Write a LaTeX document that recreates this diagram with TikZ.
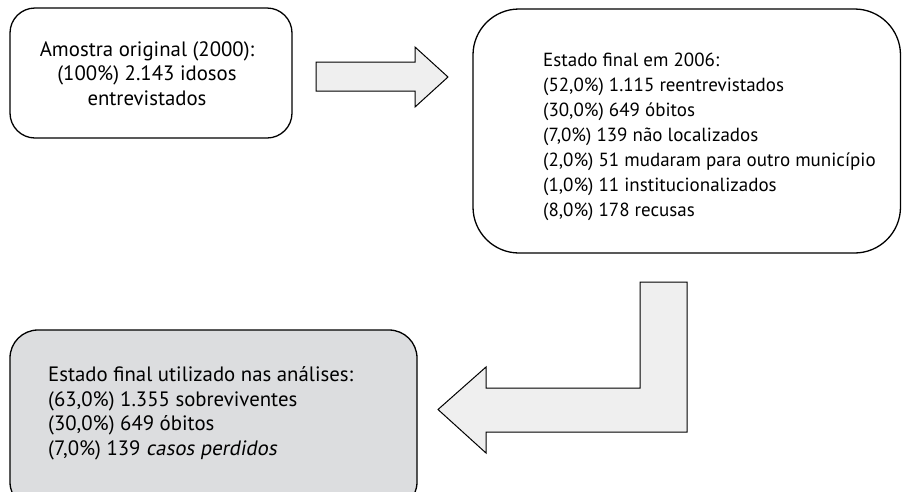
\documentclass[tikz,border=0pt]{standalone}
\usepackage{fontspec}
\setmainfont{PT Sans}
\newfontfamily\slantedsans[FakeSlant=0.18]{PT Sans}
\begin{document}
\begin{tikzpicture}[x=1pt,y=-1pt,
  box/.style={draw=black,line width=1.3pt,rounded corners=#1},
  blockarrow/.style={draw=black,line width=1pt,fill=arrowgray,line join=miter},
  txt/.style={inner sep=0pt,font=\fontsize{19}{25}\selectfont},
  bigtxt/.style={inner sep=0pt,font=\fontsize{20.8}{24.5}\selectfont}]
\definecolor{arrowgray}{HTML}{EFEFEF}
\definecolor{boxgray}{HTML}{DCDDDF}
\useasboundingbox (0,0) rectangle (902,491);
\begin{scope}
\clip (0,0) rectangle (902,491);
% boxes
\draw[box=25pt] (10,8) rectangle (292,138);
\draw[box=46pt] (473,9) rectangle (900.5,253);
\draw[box=28pt,fill=boxgray] (10,330) rectangle (417,510);
\end{scope}
% texts
\node[bigtxt,align=center] (t1) at (147,73.5) {Amostra original (2000):\\(100\%) 2.143 idosos\\entrevistados};
\node[txt,align=left,anchor=west] (t2) at (543,137) {Estado final em 2006:\\(52,0\%) 1.115 reentrevistados\\(30,0\%) 649 óbitos\\(7,0\%) 139 não localizados\\(2,0\%) 51 mudaram para outro município\\(1,0\%) 11 institucionalizados\\(8,0\%) 178 recusas};
\node[bigtxt,align=left,anchor=west] (t3) at (48,413.5) {Estado final utilizado nas análises:\\(63,0\%) 1.355 sobreviventes\\(30,0\%) 649 óbitos\\(7,0\%) 139 {\slantedsans casos perdidos}};
% right arrow
\draw[blockarrow] (316,62) -- (415,62) -- (415,47) -- (448,77) -- (415,107) -- (415,91) -- (316,91) -- cycle;
% bent arrow
\draw[blockarrow] (640,282) -- (687,282) -- (687,432) -- (486,432) -- (486,453) -- (438,409.5) -- (486,367) -- (486,388) -- (640,388) -- cycle;
\end{tikzpicture}
\end{document}
